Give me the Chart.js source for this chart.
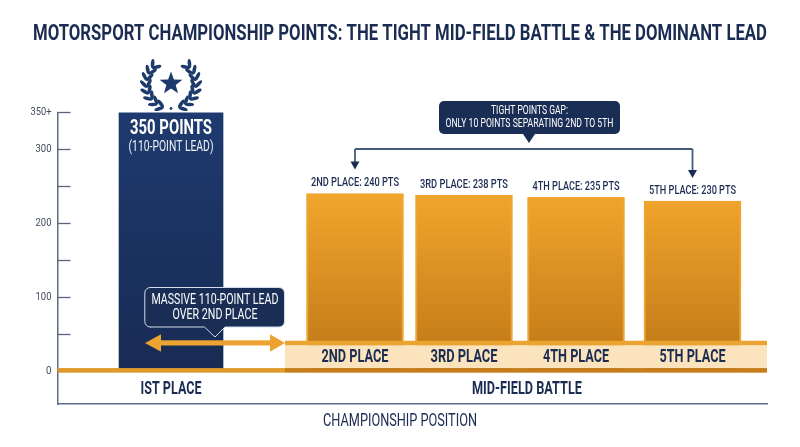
<!DOCTYPE html>
<html><head><meta charset="utf-8">
<style>html,body{margin:0;padding:0;background:#fff}canvas{display:block}</style>
<script src="https://cdn.jsdelivr.net/npm/chart.js@4"></script>
</head><body><canvas id="c" width="800" height="447"></canvas>
<script>
const titleText = "MOTORSPORT CHAMPIONSHIP POINTS: THE TIGHT MID-FIELD BATTLE & THE DOMINANT LEAD";
const leaderLabel = ["IST PLACE"];
const leaderPoints = [350];
const midLabels = ["2ND PLACE", "3RD PLACE", "4TH PLACE", "5TH PLACE"];
const midPoints = [240, 238, 235, 230];
const midValueLabels = ["2ND PLACE: 240 PTS", "3RD PLACE: 238 PTS", "4TH PLACE: 235 PTS", "5TH PLACE: 230 PTS"];
const yTickValues = [0, 50, 100, 150, 200, 250, 300, 350];
const yTickLabels = ["0", "", "100", "", "200", "", "300", "350+"];
const groupLabels = ["IST PLACE", "MID-FIELD BATTLE"];
const xTitle = "CHAMPIONSHIP POSITION";

// layout (track units along the linear position axis)
const leaderSlot = [1.6];
const midSlots = [4.193, 5.729, 7.308, 8.95];
const groupSlots = [1.6, 6.617];
const FONT = 'Roboto,"Liberation Sans",sans-serif';
const NAVY = '#1a2c52';

// The reference type is a condensed face; real text is fitted to its measured widths.
const fitWidths = {
  [titleText]: 734,
  "IST PLACE": 61, "MID-FIELD BATTLE": 110, "CHAMPIONSHIP POSITION": 154,
  "2ND PLACE": 67, "3RD PLACE": 67, "4TH PLACE": 66, "5TH PLACE": 66,
  "2ND PLACE: 240 PTS": 88, "3RD PLACE: 238 PTS": 88, "4TH PLACE: 235 PTS": 87, "5TH PLACE: 230 PTS": 87,
  "350 POINTS": 82, "(110-POINT LEAD)": 85, "TIGHT POINTS GAP:": 77,
  "ONLY 10 POINTS SEPARATING 2ND TO 5TH": 168, "MASSIVE 110-POINT LEAD": 127, "OVER 2ND PLACE": 85,
  "350+": 21, "300": 16, "200": 16, "100": 16, "0": 5.5
};
const canvas = document.getElementById('c');
const rawCtx = canvas.getContext('2d');
const nativeFill = rawCtx.fillText.bind(rawCtx);
rawCtx.fillText = (s, x, y, mw) => {
  const w = fitWidths[s];
  const m = w !== undefined ? w : mw;
  return m === undefined ? nativeFill(s, x, y) : nativeFill(s, x, y, m);
};

function txt(c, s, x, y, font, color) {
  c.save(); c.font = font; c.fillStyle = color; c.textAlign = 'center'; c.textBaseline = 'middle';
  c.fillText(s, x, y); c.restore();
}
function wreath(c, cx) {
  c.save(); c.fillStyle = '#1c3a6b'; c.translate(cx, 0);
  for (const side of [-1, 1]) {
    c.save(); c.scale(side, 1);
    for (let i = 0; i < 8; i++) {
      const a = (18 + i * 16) * Math.PI / 180, R = 24.5;
      const x = R * Math.sin(a), y = 84 + R * Math.cos(a), t = Math.atan2(-Math.sin(a), Math.cos(a));
      for (const off of [-0.62, 0.62]) {
        const d = t + off;
        c.save(); c.translate(x + 4.6 * Math.cos(d), y + 4.6 * Math.sin(d)); c.rotate(d);
        c.beginPath(); c.ellipse(0, 0, 4.8, 1.8, 0, 0, Math.PI * 2); c.fill();
        c.restore();
      }
    }
    c.restore();
  }
  c.beginPath(); c.arc(0, 108.5, 1.4, 0, Math.PI * 2); c.fill();
  const sy = 83.5; c.beginPath();
  for (let i = 0; i < 10; i++) {
    const r = i % 2 ? 4.9 : 12, a = -Math.PI / 2 + i * Math.PI / 5;
    c[i ? 'lineTo' : 'moveTo'](r * Math.cos(a), sy + r * Math.sin(a));
  }
  c.closePath(); c.fill(); c.restore();
}
function arrowDown(c, x, y1, y2, col) {
  c.strokeStyle = col; c.lineWidth = 1.8; c.beginPath(); c.moveTo(x, y1); c.lineTo(x, y2 - 6); c.stroke();
  c.fillStyle = '#1a2c52'; c.beginPath(); c.moveTo(x - 4.5, y2 - 8); c.lineTo(x + 4.5, y2 - 8); c.lineTo(x, y2); c.closePath(); c.fill();
}

const overlay = {
  id: 'overlay',
  afterDatasetsDraw(chart) {
    const c = chart.ctx, X = chart.scales.x, Y = chart.scales.y;
    const px = v => X.getPixelForValue(v), py = v => Y.getPixelForValue(v);
    const bandL = 285, R = X.right;
    c.fillStyle = '#fae3bd'; c.fillRect(bandL, py(35), R - bandL, py(4) - py(35));
    c.fillStyle = '#eca431'; c.fillRect(bandL, py(41), R - bandL, py(35) - py(41));
    c.fillStyle = '#e09a2c'; c.fillRect(X.left, py(4), bandL - X.left, py(-2.2) - py(4));
    c.fillStyle = '#c67e1c'; c.fillRect(bandL, py(4), R - bandL, py(-2.2) - py(4));
    midLabels.forEach((s, i) => txt(c, s, px(midSlots[i]), 357, 'bold 18px ' + FONT, NAVY));
    const meta = chart.getDatasetMeta(1);
    meta.data.forEach((b, i) => txt(c, midValueLabels[i], b.x, b.y - 10.5, '500 12.5px ' + FONT, NAVY));
    const L = chart.getDatasetMeta(0).data[0];
    txt(c, '350 POINTS', L.x, 129, 'bold 21px ' + FONT, '#fff');
    txt(c, '(110-POINT LEAD)', L.x, 147, '15px ' + FONT, '#eef2f8');
    wreath(c, L.x);
    c.fillStyle = '#1a2e55';
    c.beginPath(); c.roundRect(439, 101, 181, 33, 5); c.fill();
    c.beginPath(); c.moveTo(523, 134); c.lineTo(535, 134); c.lineTo(529, 143); c.closePath(); c.fill();
    txt(c, 'TIGHT POINTS GAP:', 529.5, 111, '12.5px ' + FONT, '#fff');
    txt(c, 'ONLY 10 POINTS SEPARATING 2ND TO 5TH', 529.5, 124, '12.5px ' + FONT, '#fff');
    const first = meta.data[0], last = meta.data[3];
    c.strokeStyle = '#46597a'; c.lineWidth = 1.8;
    c.beginPath(); c.moveTo(first.x, 149); c.lineTo(last.x, 149); c.stroke();
    arrowDown(c, first.x, 149, 169.5, '#46597a');
    arrowDown(c, last.x, 149, 178, '#46597a');
    c.fillStyle = '#1a2e55'; c.strokeStyle = '#d3dcea'; c.lineWidth = 1;
    c.beginPath();
    c.moveTo(150, 287.5); c.lineTo(279, 287.5); c.arcTo(284.5, 287.5, 284.5, 293, 5.5);
    c.lineTo(284.5, 322); c.arcTo(284.5, 327, 279, 327, 5.5);
    c.lineTo(225, 327); c.lineTo(215, 337); c.lineTo(204.5, 327);
    c.lineTo(150, 327); c.arcTo(144.8, 327, 144.8, 322, 5.5);
    c.lineTo(144.8, 293); c.arcTo(144.8, 287.5, 150, 287.5, 5.5);
    c.closePath(); c.fill(); c.stroke();
    txt(c, 'MASSIVE 110-POINT LEAD', 215, 300, '15px ' + FONT, '#fff');
    txt(c, 'OVER 2ND PLACE', 215, 315.5, '15px ' + FONT, '#fff');
    c.fillStyle = '#eca331';
    c.fillRect(160, 340.3, 111, 5.2);
    c.beginPath(); c.moveTo(145, 343); c.lineTo(161, 334.3); c.lineTo(161, 351.7); c.closePath(); c.fill();
    c.beginPath(); c.moveTo(285, 343); c.lineTo(270, 334.3); c.lineTo(270, 351.7); c.closePath(); c.fill();
    txt(c, xTitle, 400, 422, '17.5px ' + FONT, NAVY);
  }
};

function grad(ctx, top, bottom, y1, y2) {
  const g = ctx.chart.ctx.createLinearGradient(0, y1, 0, y2);
  g.addColorStop(0, top); g.addColorStop(1, bottom); return g;
}

new Chart(canvas, {
  type: 'bar',
  plugins: [overlay],
  data: {
    datasets: [
      { label: leaderLabel[0], grouped: false, barThickness: 104,
        data: leaderPoints.map((v, i) => ({ x: leaderSlot[i], y: v })),
        backgroundColor: ctx => grad(ctx, '#1e3a6e', '#182b54', 112, 370), borderWidth: 0 },
      { label: 'Mid-field', grouped: false, barThickness: 97,
        data: midPoints.map((v, i) => ({ x: midSlots[i], y: v })),
        backgroundColor: ctx => grad(ctx, '#f2a62d', '#c67e1a', 192, 341),
        borderColor: '#f0a42e', borderWidth: 2, borderSkipped: false }
    ]
  },
  options: {
    responsive: false, animation: false,
    layout: { padding: 0 },
    plugins: {
      legend: { display: false }, tooltip: { enabled: false },
      title: { display: true, text: titleText, color: NAVY,
        font: { family: FONT, size: 22, weight: 'bold' },
        padding: { top: 21, bottom: 65 } }
    },
    scales: {
      x: {
        type: 'linear', min: 0, max: 10, offset: false,
        afterBuildTicks: s => { s.ticks = groupSlots.map(v => ({ value: v })); },
        afterFit: s => { s.height = 43; },
        grid: { offset: false, drawOnChartArea: false, drawTicks: false },
        border: { color: '#5d6d86', width: 1.5 },
        ticks: { mirror: true, autoSkip: false, maxRotation: 0, padding: 4, color: NAVY,
          font: { family: FONT, size: 18, weight: 'bold' },
          callback: v => groupLabels[groupSlots.indexOf(v)] }
      },
      y: {
        min: -44.6, max: 350,
        afterBuildTicks: s => { s.ticks = yTickValues.map(v => ({ value: v })); },
        afterFit: s => { s.width = 57.5; },
        grid: { drawOnChartArea: false, tickLength: -13, tickColor: '#56657d', tickWidth: 1.3 },
        border: { color: '#5d6d86', width: 1.5 },
        ticks: { padding: 19, color: '#444c5c', autoSkip: false,
          font: { family: FONT, size: 11.5 },
          callback: v => yTickLabels[yTickValues.indexOf(v)] }
      },
      // empty right-hand margin so the plot stops short of the canvas edge
      margin: {
        position: 'right', min: 0, max: 1,
        afterBuildTicks: s => { s.ticks = []; },
        afterFit: s => { s.width = 33; },
        grid: { display: false }, border: { display: false }, ticks: { display: false }
      }
    }
  }
});
</script></body></html>
